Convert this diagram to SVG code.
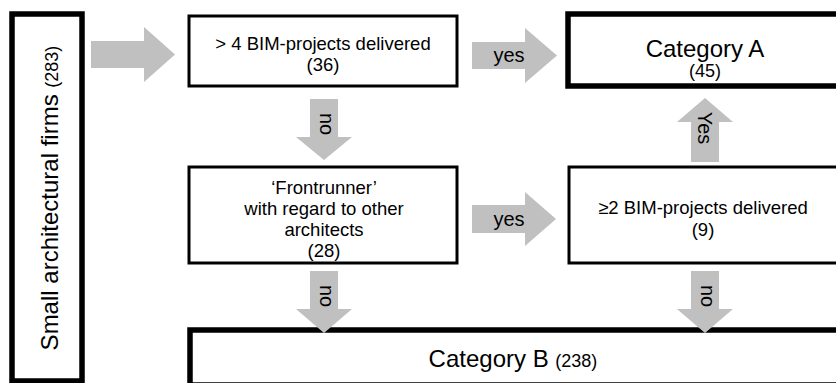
<svg xmlns="http://www.w3.org/2000/svg" width="836" height="383" viewBox="0 0 836 383">
  <style>
    text { font-family: "Liberation Sans", Arial, sans-serif; fill: #000; }
    .box { fill: #fff; stroke: #000; stroke-width: 3; }
    .bold { fill: #fff; stroke: #000; stroke-width: 5.5; }
    .arrow { fill: #c0c0c0; stroke: none; }
    .t18 { font-size: 18.5px; text-anchor: middle; }
    .t24 { font-size: 24px; }
    .lbl { font-size: 20px; text-anchor: middle; }
  </style>
  <rect width="836" height="383" fill="#fff"/>

  <!-- nodes -->
  <g id="firms">
    <rect class="bold" x="12" y="14" width="70" height="367"/>
    <text class="t24" transform="translate(58,198) rotate(-90)" text-anchor="middle">Small architectural firms <tspan font-size="18px">(283)</tspan></text>
  </g>

  <g id="bim4">
    <rect class="box" x="189" y="16" width="268" height="70"/>
    <text class="t18" x="323" y="50">&gt; 4 BIM-projects delivered</text>
    <text class="t18" x="323" y="71">(36)</text>
  </g>

  <g id="catA">
    <rect class="bold" x="568" y="14" width="300" height="72"/>
    <text class="t24" x="705" y="57" text-anchor="middle">Category A</text>
    <text x="705" y="77" font-size="18px" text-anchor="middle">(45)</text>
  </g>

  <g id="frontrunner">
    <rect class="box" x="189" y="167" width="268" height="96"/>
    <text class="t18" x="324" y="193.5">‘Frontrunner’</text>
    <text class="t18" x="324" y="214.5">with regard to other</text>
    <text class="t18" x="324" y="235.5">architects</text>
    <text class="t18" x="324" y="256.5">(28)</text>
  </g>

  <g id="bim2">
    <rect class="box" x="569" y="167" width="300" height="96"/>
    <text class="t18" x="703" y="214">≥2 BIM-projects delivered</text>
    <text class="t18" x="703" y="236">(9)</text>
  </g>

  <g id="catB">
    <rect class="bold" x="190" y="330" width="700" height="55"/>
    <text class="t24" x="513" y="367" text-anchor="middle">Category B <tspan font-size="18px">(238)</tspan></text>
  </g>

  <!-- connectors: block arrows with their labels -->
  <g id="connectors">
    <polygon class="arrow" points="91,41 144,41 144,27 175,54.5 144,82 144,68 91,68"/>

    <polygon class="arrow" points="472,42 525,42 525,28 557,55.5 525,83 525,69 472,69"/>
    <text class="lbl" x="509" y="62">yes</text>

    <polygon class="arrow" points="310,99 338,99 338,137 352,137 324,160 296,137 310,137"/>
    <text class="lbl" transform="translate(320,124) rotate(90)">no</text>

    <polygon class="arrow" points="472,205 525,205 525,192 556,219 525,246 525,233 472,233"/>
    <text class="lbl" x="509" y="226">yes</text>

    <polygon class="arrow" points="691,162 719,162 719,122 733,122 705,98 677,122 691,122"/>
    <text class="lbl" transform="translate(698,128) rotate(90)">Yes</text>

    <polygon class="arrow" points="310,271 338,271 338,309 352,309 324,333 296,309 310,309"/>
    <text class="lbl" transform="translate(320,296) rotate(90)">no</text>

    <polygon class="arrow" points="691,271 719,271 719,309 733,309 705,333 677,309 691,309"/>
    <text class="lbl" transform="translate(701,296) rotate(90)">no</text>
  </g>
</svg>
